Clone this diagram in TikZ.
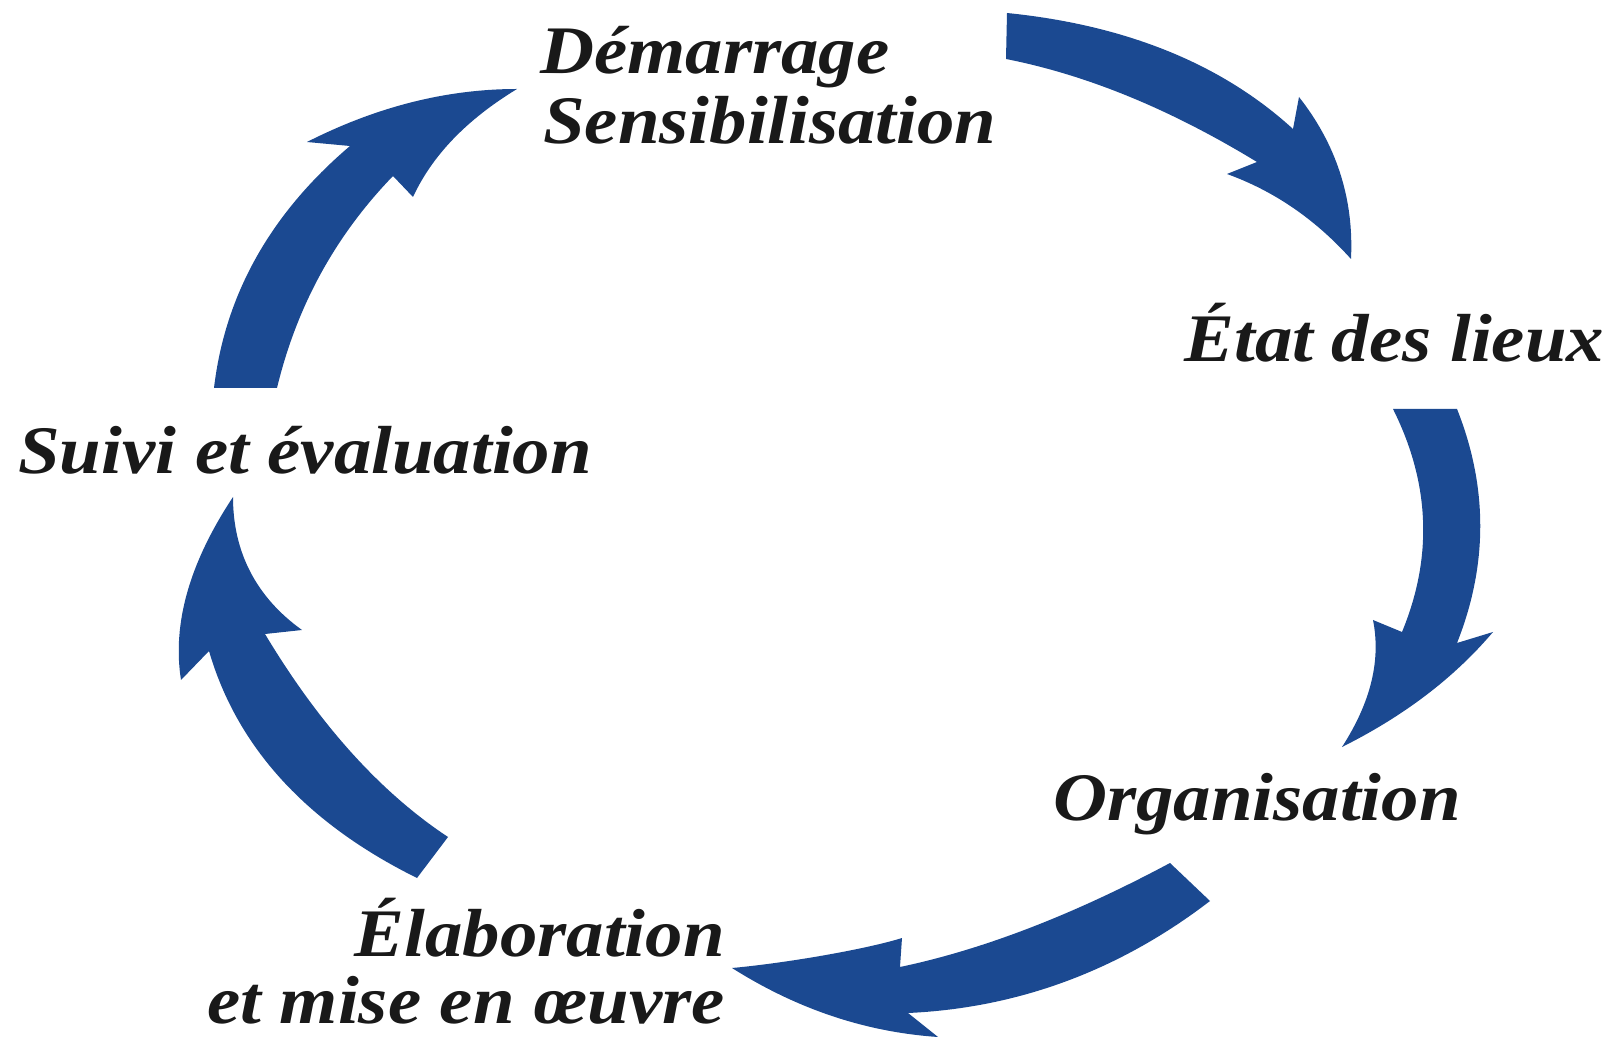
\documentclass[tikz,border=0pt]{standalone}
\usepackage{fontspec}
\newfontfamily\lblfont{Liberation Serif}[FakeStretch=1.10]
\definecolor{arrowblue}{RGB}{27,73,145}
\tikzset{
  lbl/.style={inner sep=0pt, font=\lblfont\fontsize{34}{36}\selectfont\bfseries\itshape, text=black!90},
  bigarrow/.style={fill=arrowblue, draw=none}
}
\begin{document}
\begin{tikzpicture}[x=0.5pt,y=-0.5pt]
\useasboundingbox (0,0) rectangle (1608,1037);
% labels
\node[lbl, anchor=base west] (demar) at (540,74) {Démarrage};
\node[lbl, anchor=base west] (sensi) at (543,144) {Sensibilisation};
\node[lbl, anchor=base west] (etat) at (1184,362) {État des lieux};
\node[lbl, anchor=base west] (organ) at (1053,820) {Organisation};
\node[lbl, anchor=base east] (elab) at (725,956) {Élaboration};
\node[lbl, anchor=base east] (mise) at (725,1023) {et mise en œuvre};
\node[lbl, anchor=base west] (suivi) at (18,474) {Suivi et évaluation};
% arrow 1: Démarrage -> État des lieux
\fill[bigarrow] (1007,13) .. controls (1126,25) and (1222,64) .. (1293,129) -- (1299,97)
  .. controls (1336,144) and (1354,198) .. (1351,259)
  .. controls (1315,219) and (1274,191) .. (1227,174)
  -- (1257,162) .. controls (1170,109) and (1087,75) .. (1006,59) -- cycle;
% arrow 2: État des lieux -> Organisation
\fill[bigarrow] (1393,409) -- (1457,409) .. controls (1488,487) and (1488,565) .. (1457,643)
  -- (1493,632) .. controls (1454,678) and (1404,716) .. (1342,747)
  .. controls (1371,702) and (1381,660) .. (1373,620)
  -- (1402,632) .. controls (1433,557) and (1430,483) .. (1393,409) -- cycle;
% arrow 3: Organisation -> Élaboration
\fill[bigarrow] (1170,863) -- (1210,901) .. controls (1120,970) and (1019,1008) .. (908,1013)
  -- (938,1037) .. controls (865,1032) and (797,1009) .. (732,968)
  .. controls (787,963) and (867,949) .. (902,938)
  -- (900,967) .. controls (981,950) and (1071,916) .. (1170,863) -- cycle;
% arrow 4: Élaboration -> Suivi
\fill[bigarrow] (448,837) -- (417,878) .. controls (306,823) and (237,747) .. (209,651)
  -- (181,680) .. controls (172,623) and (190,562) .. (233,497)
  .. controls (233,552) and (256,597) .. (302,630)
  -- (265,634) .. controls (319,724) and (380,792) .. (448,837) -- cycle;
% arrow 5: Suivi -> Démarrage
\fill[bigarrow] (214,388) -- (277,388) .. controls (297,305) and (336,235) .. (393,176)
  -- (413,197) .. controls (432,156) and (466,120) .. (517,89)
  .. controls (446,89) and (376,107) .. (307,142)
  -- (350,146) .. controls (270,214) and (225,295) .. (214,388) -- cycle;
\end{tikzpicture}
\end{document}
